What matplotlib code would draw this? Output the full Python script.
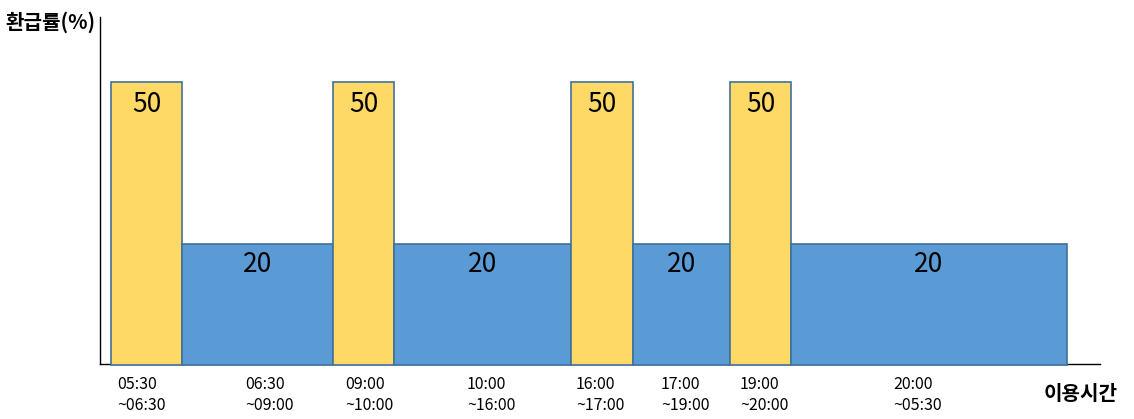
import matplotlib.pyplot as plt

plt.rcParams['font.family'] = ['Noto Sans CJK KR', 'DejaVu Sans']

periods = ['05:30\n~06:30', '06:30\n~09:00', '09:00\n~10:00', '10:00\n~16:00',
           '16:00\n~17:00', '17:00\n~19:00', '19:00\n~20:00', '20:00\n~05:30']
rates = [50, 20, 50, 20, 50, 20, 50, 20]

# layout (pixel-like units along x)
widths = [71, 151, 61, 177, 62, 97, 61, 276]
start_x = 111
label_x = [117, 245, 345, 467, 576, 661, 740, 893]
base = -2.4

yellow = '#FFD966'
blue = '#5B9BD5'
edge = '#41719C'

fig = plt.figure(figsize=(11.34, 4.19), dpi=100)
ax = fig.add_axes([100 / 1134, 55 / 419, 1000 / 1134, 347 / 419])

lefts = []
x = start_x
for w in widths:
    lefts.append(x)
    x += w

colors = [yellow if r == 50 else blue for r in rates]
heights = [r - base for r in rates]
ax.bar(lefts, heights, width=widths, bottom=base, align='edge', color=colors,
       edgecolor=edge, linewidth=1.2, clip_on=False, zorder=3)

for l, w, r in zip(lefts, widths, rates):
    off = -6.5 if r == 50 else -5
    ax.annotate(str(r), (l + w / 2, r), xytext=(0, off), textcoords='offset points',
                ha='center', va='top', fontsize=19, color='black', zorder=4)

for lx, p in zip(label_x, periods):
    ax.text(lx, -4.5, p, ha='left', va='top', fontsize=11.5, linespacing=1.25,
            color='black', clip_on=False)

ax.set_xlim(100, 1100)
ax.set_ylim(-2.2, 62)
for s in ['top', 'right']:
    ax.spines[s].set_visible(False)
ax.spines['left'].set_linewidth(1)
ax.spines['bottom'].set_linewidth(1)
ax.set_xticks([])
ax.set_yticks([])

fig.text(5 / 1134, 1 - 22 / 419, '환급률(%)', ha='left', va='center', fontsize=14.5, fontweight='bold')
fig.text(1118 / 1134, 1 - 393 / 419, '이용시간', ha='right', va='center', fontsize=14.5, fontweight='bold')

fig.savefig('out.png', dpi=100, facecolor='white')
